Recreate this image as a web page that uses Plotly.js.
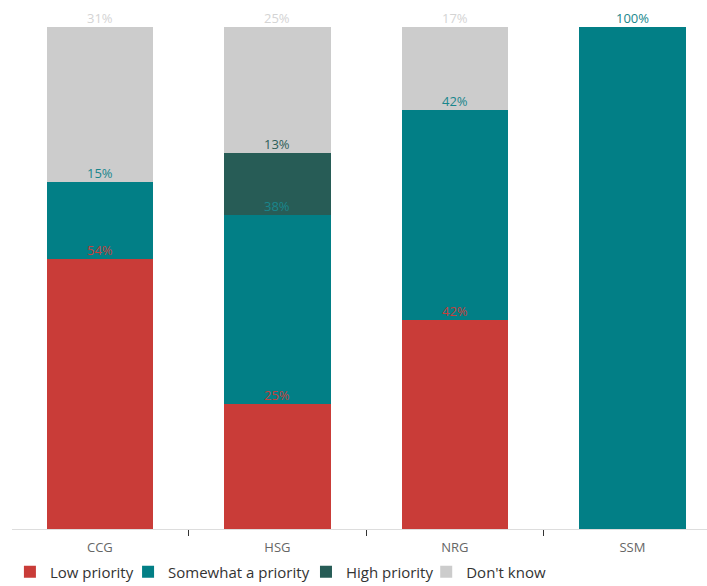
<!DOCTYPE html>
<html><head><meta charset="utf-8">
<script src="https://cdn.plot.ly/plotly-3.0.1.min.js"></script>
<style>html,body{margin:0;padding:0;background:#fff}#chart{width:707px;height:586px}</style>
</head><body><div id="chart"></div>
<script>
const categories = ["CCG", "HSG", "NRG", "SSM"];
const seriesNames = ["Low priority", "Somewhat a priority", "High priority", "Don't know"];
const lowPriority = [53.8, 25, 41.7, 0];
const somewhatPriority = [15.4, 37.5, 41.7, 100];
const highPriority = [0, 12.5, 0, 0];
const dontKnow = [30.8, 25, 16.7, 0];
const colors = ["#c93c38", "#027f86", "#275c56", "#cccccc"];
const labelColors = ["#c4413d", "#19868c", "#2e5f59", "#d4d4d4"];

const series = [lowPriority, somewhatPriority, highPriority, dontKnow];
const FONT = "Open Sans, sans-serif";
const legendIds = ["legend", "legend2", "legend3", "legend4"];
const legendX = [-0.003, 0.167, 0.423, 0.596];

const traces = series.map((vals, i) => ({
  type: "bar",
  name: seriesNames[i],
  x: categories,
  y: vals,
  legend: legendIds[i],
  marker: {color: colors[i], line: {width: 0}},
  hoverinfo: "skip"
}));

const annotations = [];
const cum = categories.map(() => 0);
series.forEach((vals, i) => {
  vals.forEach((v, j) => {
    cum[j] += v;
    if (v > 0) {
      annotations.push({
        x: categories[j], y: Math.min(cum[j], 100), xref: "x", yref: "y",
        text: Math.round(v) + "%", showarrow: false, yanchor: "bottom",
        yshift: -2,
        font: {family: FONT, size: 13, color: labelColors[i]}
      });
    }
  });
});

const layout = {
  width: 707, height: 586,
  margin: {l: 12, r: 0, t: 27, b: 57, autoexpand: false},
  barmode: "stack",
  bargap: 0.4,
  showlegend: true,
  xaxis: {type: "category", range: [-0.495, 3.42], tickson: "boundaries", ticks: "outside",
          ticklen: 6, tickcolor: "#333", showline: true, linecolor: "#dddddd", linewidth: 1,
          ticklabelstandoff: 6, automargin: false,
          tickfont: {family: FONT, size: 13, color: "#666"}, showgrid: false, fixedrange: true},
  yaxis: {range: [0, 100], visible: false, showgrid: false, zeroline: false, fixedrange: true},
  annotations: annotations,
  plot_bgcolor: "#fff", paper_bgcolor: "#fff",
  font: {family: FONT}
};
legendIds.forEach((id, i) => {
  layout[id] = {orientation: "h", x: legendX[i], xanchor: "left", y: -0.0857, yanchor: "middle",
    font: {family: FONT, size: 15, color: "#333"}, itemwidth: 30, bgcolor: "rgba(0,0,0,0)"};
});

Plotly.newPlot("chart", traces, layout, {displayModeBar: false, staticPlot: true});
</script></body></html>
